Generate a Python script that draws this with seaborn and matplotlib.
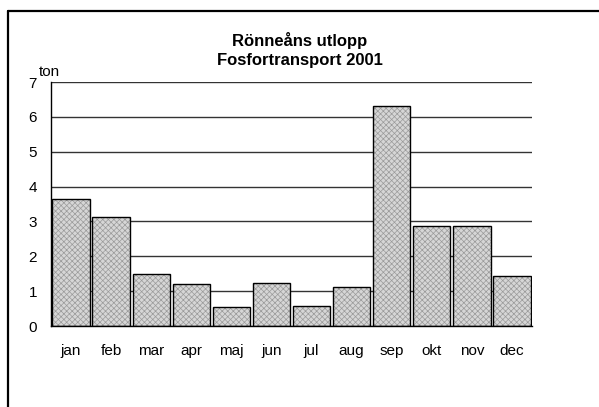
import matplotlib
matplotlib.use("Agg")
import matplotlib.pyplot as plt
import seaborn as sns
import pandas as pd
import numpy as np
from matplotlib.lines import Line2D
from matplotlib.patches import Rectangle

months = ["jan", "feb", "mar", "apr", "maj", "jun", "jul", "aug", "sep", "okt", "nov", "dec"]
values = [3.64, 3.14, 1.49, 1.20, 0.55, 1.23, 0.58, 1.11, 6.31, 2.87, 2.87, 1.43]
yticks = [0, 1, 2, 3, 4, 5, 6, 7]
title_lines = ["Rönneåns utlopp", "Fosfortransport 2001"]
ylabel = "ton"

sns.set_style("white")
plt.rcParams["font.family"] = ["Liberation Sans", "DejaVu Sans"]
plt.rcParams["hatch.linewidth"] = 0.5
plt.rcParams["text.color"] = "black"
plt.rcParams["xtick.color"] = "black"
plt.rcParams["ytick.color"] = "black"
plt.rcParams["xtick.labelcolor"] = "black"
plt.rcParams["ytick.labelcolor"] = "black"

df = pd.DataFrame({"month": months, "value": values})

fig = plt.figure(figsize=(5.99, 4.07), dpi=100)
ax = fig.add_axes([51/599, 1-326/407, (532-51)/599, (326-82)/407])

sns.barplot(data=df, x="month", y="value", ax=ax, color="#d6d6d6", width=0.93,
            linewidth=0)
bars = list(ax.patches)
for p in bars:
    p.set_hatch("xxxxxx")
    p.set_edgecolor("#9a9a9a")
    p.set_linewidth(0)
    p.set_zorder(2)
    outline = Rectangle(p.get_xy(), p.get_width(), p.get_height(), fill=False,
                        edgecolor="black", linewidth=1.0, zorder=3)
    ax.add_patch(outline)

ax.set_ylim(0, 7)
ax.set_xlim(-0.5, len(months) - 0.5)
ax.set_yticks(yticks)
ax.set_yticklabels([str(t) for t in yticks])
ax.yaxis.grid(True, color="#333333", linewidth=1.0)
ax.set_axisbelow(True)
ax.set_xlabel("")
ax.set_ylabel("")

for s in ["top", "right"]:
    ax.spines[s].set_visible(False)
for s in ["left", "bottom"]:
    ax.spines[s].set_color("black")
    ax.spines[s].set_linewidth(1.0)
    ax.spines[s].set_zorder(4)

ax.tick_params(axis="y", which="major", direction="out", length=5, width=1,
               color="black", pad=5, labelsize=11)
ax.tick_params(axis="x", which="major", length=0, pad=13, labelsize=11)
ax.set_xticks(np.arange(-0.5, len(months), 1.0), minor=True)
ax.tick_params(axis="x", which="minor", direction="out", length=3, width=1, color="black")

fig.text(300/599, 1-50/407, title_lines[0] + "\n" + title_lines[1], ha="center",
         va="center", fontsize=12, fontweight="bold", linespacing=1.4, color="black")
fig.text(39/599, 1-72/407, ylabel, ha="left", va="center", fontsize=11, color="black")

fig.add_artist(Line2D([8/599, 1.0], [1-11/407, 1-11/407], color="black", linewidth=1.6,
                      transform=fig.transFigure))
fig.add_artist(Line2D([8/599, 8/599], [1-11/407, 0.0], color="black", linewidth=1.6,
                      transform=fig.transFigure))

fig.savefig("out.png", dpi=100)
